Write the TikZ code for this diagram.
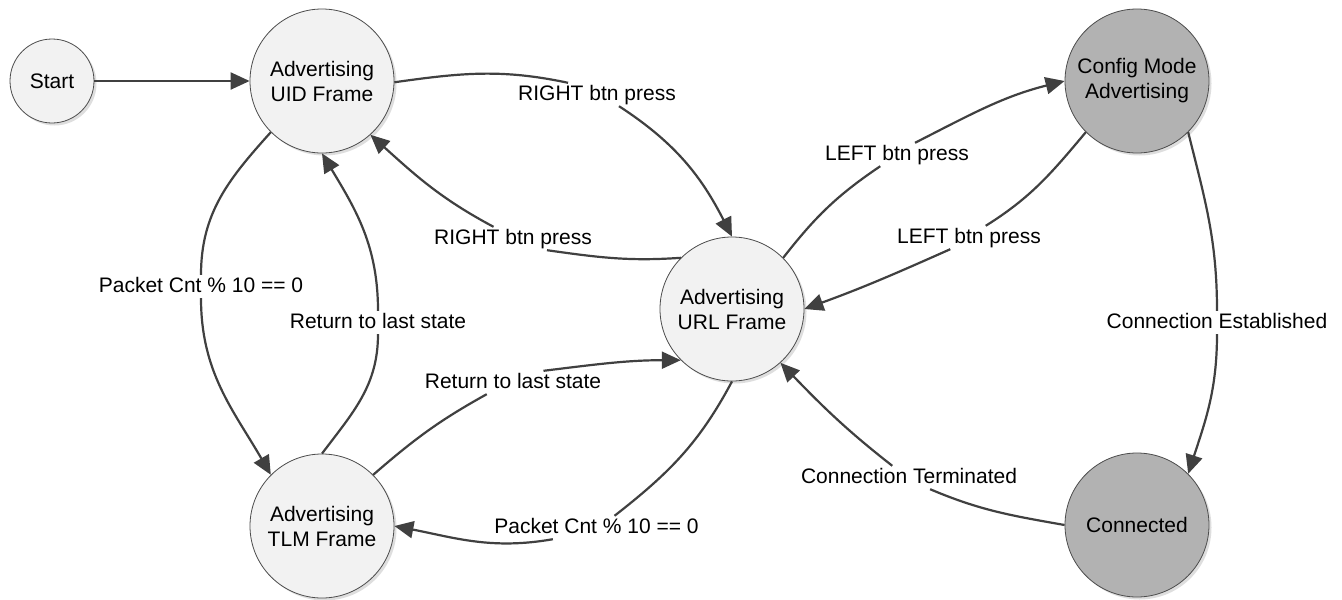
\documentclass[tikz,border=0pt]{standalone}
\usepackage{fontspec}
\setmainfont{Liberation Sans}
\usetikzlibrary{arrows.meta,shadows}

\begin{document}
\begin{tikzpicture}[%
      x=1pt, y=1pt, %
      state/.style={
        circle,
        draw=black!70,
        line width=0.8pt,
        fill=black!5,
        inner sep=0pt,
        minimum size=144pt,
        align=center,
        font=\fontsize{21}{25}\selectfont,
        drop shadow={shadow xshift=2.5pt, shadow yshift=-2.5pt, fill=black!25}
      },
      busy/.style={state, fill=black!30},
      lbl/.style={inner sep=2pt, text height=15pt, text depth=4pt, font=\fontsize{21}{25}\selectfont},
      trans/.style={draw=black!75, line width=2.2pt, -{Triangle[length=19pt,width=17pt]}}
      ]
      \path[fill=white, use as bounding box] (0,0) rectangle (1342,-600);

      % States
      \node[state, minimum size=84pt] (start) at (52,-81) {Start};
      \node[state] (uid) at (322,-81) {Advertising\\UID Frame};
      \node[state] (url) at (732,-309) {Advertising\\URL Frame};
      \node[state] (tlm) at (322,-526) {Advertising\\TLM Frame};
      \node[busy] (cfg) at (1137,-81) {Config Mode\\Advertising};
      \node[busy] (conn) at (1137,-525) {Connected};

      % Transition labels
      \node[lbl] (l1) at (597,-94.5) {RIGHT btn press};
      \node[lbl] (l2) at (513,-238.5) {RIGHT btn press};
      \node[lbl] (l3) at (201,-286.5) {Packet Cnt \% 10 == 0};
      \node[lbl] (l4) at (378,-322.5) {Return to last state};
      \node[lbl] (l5) at (513,-382.5) {Return to last state};
      \node[lbl] (l6) at (596.5,-527.5) {Packet Cnt \% 10 == 0};
      \node[lbl] (l7) at (897,-154.5) {LEFT btn press};
      \node[lbl] (l8) at (969,-237.5) {LEFT btn press};
      \node[lbl] (l9) at (1217,-322.5) {Connection Established};
      \node[lbl] (l10) at (909,-477.5) {Connection Terminated};

      % Transitions
      \draw[trans] (start) -- (uid);
      \draw[trans] (uid.-1) to[out=8,in=168] (l1.158) (l1.-28) to[out=-33,in=117] (url.90);
      \draw[trans] (url.135) to[out=184,in=-8] (l2.-19) (l2.149) to[out=152,in=-42] (uid.-48);
      \draw[trans] (uid.225) to[out=228,in=90] (l3.north) (l3.south) to[out=-90,in=120] (tlm.135);
      \draw[trans] (tlm.90) to[out=53,in=-90] (l4.south) (l4.north) to[out=90,in=-59] (uid.270);
      \draw[trans] (tlm.45) to[out=41,in=209] (l5.204) (l5.21) to[out=7,in=180] (url.225);
      \draw[trans] (url.270) to[out=242,in=38] (l6.33) (l6.195) to[out=190,in=-11] (tlm.0);
      \draw[trans] (url.45) to[out=52,in=214] (l7.215) (l7.33) to[out=27,in=194] (cfg.180);
      \draw[trans] (cfg.225) to[out=230,in=32] (l8.35) (l8.212) to[out=204,in=20] (url.0);
      \draw[trans] (cfg.-45) to[out=-76,in=90] (l9.north) (l9.south) to[out=-90,in=72] (conn.45);
      \draw[trans] (conn.180) to[out=170,in=-23] (l10.-29) (l10.145) to[out=142,in=-46] (url.-48);

    \end{tikzpicture}
\end{document}
